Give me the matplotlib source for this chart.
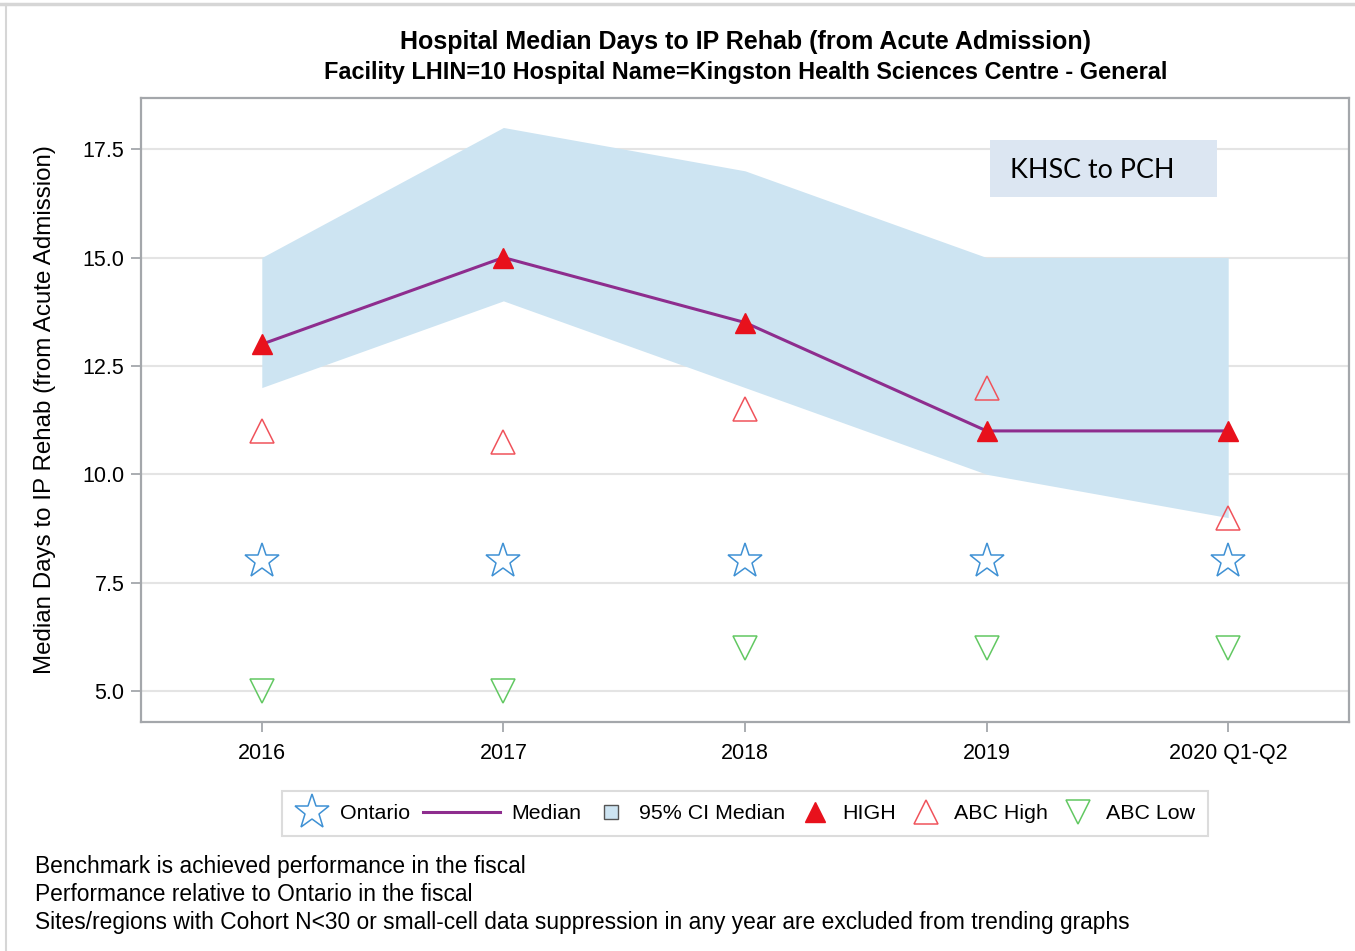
import matplotlib
matplotlib.use("Agg")
import matplotlib.pyplot as plt
from matplotlib.lines import Line2D
from matplotlib.patches import Rectangle
from matplotlib.legend_handler import HandlerLine2D

plt.rcParams['font.family'] = ['Liberation Sans', 'DejaVu Sans']

# ---- data ----
periods = ["2016", "2017", "2018", "2019", "2020 Q1-Q2"]
median_days = [13, 15, 13.5, 11, 11]
ci_low = [12, 14, 12, 10, 9]
ci_high = [15, 18, 17, 15, 15]
ontario = [8, 8, 8, 8, 8]
abc_high = [11, 10.75, 11.5, 12, 9]
abc_low = [5, 5, 6, 6, 6]
y_ticks = [5.0, 7.5, 10.0, 12.5, 15.0, 17.5]

# ---- colours ----
band_col = '#cde4f2'
median_col = '#8e2d8e'
high_col = '#e8111c'
abc_high_col = '#f0535b'
abc_low_col = '#62c862'
star_col = '#3f91d4'
spine_col = '#a4a7ab'

W, H = 1355, 951
fig = plt.figure(figsize=(W / 100, H / 100), dpi=100)

def px_axes(l, t, r, b):
    return [l / W, 1 - b / H, (r - l) / W, (b - t) / H]

ax = fig.add_axes(px_axes(141, 98, 1349, 722))
x = list(range(len(periods)))

ax.fill_between(x, ci_low, ci_high, color=band_col, lw=0, zorder=1)
ax.plot(x, median_days, color=median_col, lw=2.2, zorder=3)
ax.plot(x, median_days, ls='none', marker='^', ms=14, mfc=high_col, mec=high_col, zorder=4)
ax.plot(x, abc_high, ls='none', marker='^', ms=17, mfc='none', mec=abc_high_col, mew=1.1, zorder=4)
ax.plot(x, abc_low, ls='none', marker='v', ms=17, mfc='none', mec=abc_low_col, mew=1.1, zorder=4)
ax.plot(x, ontario, ls='none', marker='*', ms=26, mfc='none', mec=star_col, mew=1.1, zorder=4)

ax.set_xlim(-0.5, 4.5)
ax.set_ylim(4.285, 18.68)
ax.set_xticks(x)
ax.set_xticklabels(periods)
ax.set_yticks(y_ticks)
ax.set_yticklabels([f"{v:.1f}" for v in y_ticks])
ax.yaxis.grid(True, color='#e4e4e4', lw=1.5, zorder=0)
ax.set_axisbelow(True)
for s in ax.spines.values():
    s.set_color(spine_col)
    s.set_linewidth(1.6)
ax.tick_params(axis='both', colors=spine_col, labelcolor='black', length=7, width=1.3,
               labelsize=15.5)
ax.tick_params(axis='x', pad=8)
ax.tick_params(axis='y', pad=5)
ax.set_ylabel("Median Days to IP Rehab (from Acute Admission)", fontsize=17.4, labelpad=19)

# annotation box
ax.add_patch(Rectangle((0.7028, 0.8413), 0.1879, 0.0914, transform=ax.transAxes,
                       fc='#dce6f2', ec='none', zorder=5))
ax.text(0.7194, 0.8846, "KHSC to PCH", transform=ax.transAxes, fontsize=19.4,
        family=['Lato', 'DejaVu Sans'], va='center', ha='left', zorder=6)

# titles
fig.text(746 / W, 1 - 42 / H, "Hospital Median Days to IP Rehab (from Acute Admission)",
         ha='center', va='center', fontsize=18, fontweight='bold')
fig.text(746 / W, 1 - 73 / H,
         "Facility LHIN=10 Hospital Name=Kingston Health Sciences Centre - General",
         ha='center', va='center', fontsize=16.9, fontweight='bold')


class LongLineHandler(HandlerLine2D):
    def __init__(self, length, **kw):
        super().__init__(**kw)
        self.length = length

    def legend_artist(self, legend, orig_handle, fontsize, handlebox):
        handlebox.width = self.length * fontsize
        return super().legend_artist(legend, orig_handle, fontsize, handlebox)


h_star = Line2D([], [], ls='none', marker='*', ms=26, mfc='none', mec=star_col, mew=1.1)
h_med = Line2D([], [], color=median_col, lw=2.2)
h_ci = Line2D([], [], ls='none', marker='s', ms=10, mfc=band_col, mec='#555555', mew=1.0)
h_high = Line2D([], [], ls='none', marker='^', ms=14, mfc=high_col, mec=high_col)
h_ah = Line2D([], [], ls='none', marker='^', ms=17, mfc='none', mec=abc_high_col, mew=1.1)
h_al = Line2D([], [], ls='none', marker='v', ms=17, mfc='none', mec=abc_low_col, mew=1.1)

leg = fig.legend([h_star, h_med, h_ci, h_high, h_ah, h_al],
                 ["Ontario", "Median", "95% CI Median", "HIGH", "ABC High", "ABC Low"],
                 handler_map={h_med: LongLineHandler(3.6)},
                 loc='center', bbox_to_anchor=(745 / W, 1 - 813.5 / H), ncol=6,
                 fontsize=15.4, frameon=True, fancybox=False, edgecolor='#d4d4d4',
                 handlelength=1.6, handletextpad=0.5, columnspacing=0.6,
                 borderpad=0.62, borderaxespad=0)
leg.get_frame().set_linewidth(1.5)

notes = ["Benchmark is achieved performance in the fiscal",
         "Performance relative to Ontario in the fiscal",
         "Sites/regions with Cohort N<30 or small-cell data suppression in any year are excluded from trending graphs"]
for i, n in enumerate(notes):
    fig.text(35 / W, 1 - (866 + 28.5 * i) / H, n, ha='left', va='center', fontsize=16.4)

# outer frame edges
fig.add_artist(Line2D([0, 1], [1 - 4 / H, 1 - 4 / H], transform=fig.transFigure,
                      color='#d6d6d6', lw=2.5))
fig.add_artist(Line2D([6 / W, 6 / W], [0, 1 - 4 / H], transform=fig.transFigure,
                      color='#d6d6d6', lw=1.5))

fig.savefig("out.png", dpi=100)
